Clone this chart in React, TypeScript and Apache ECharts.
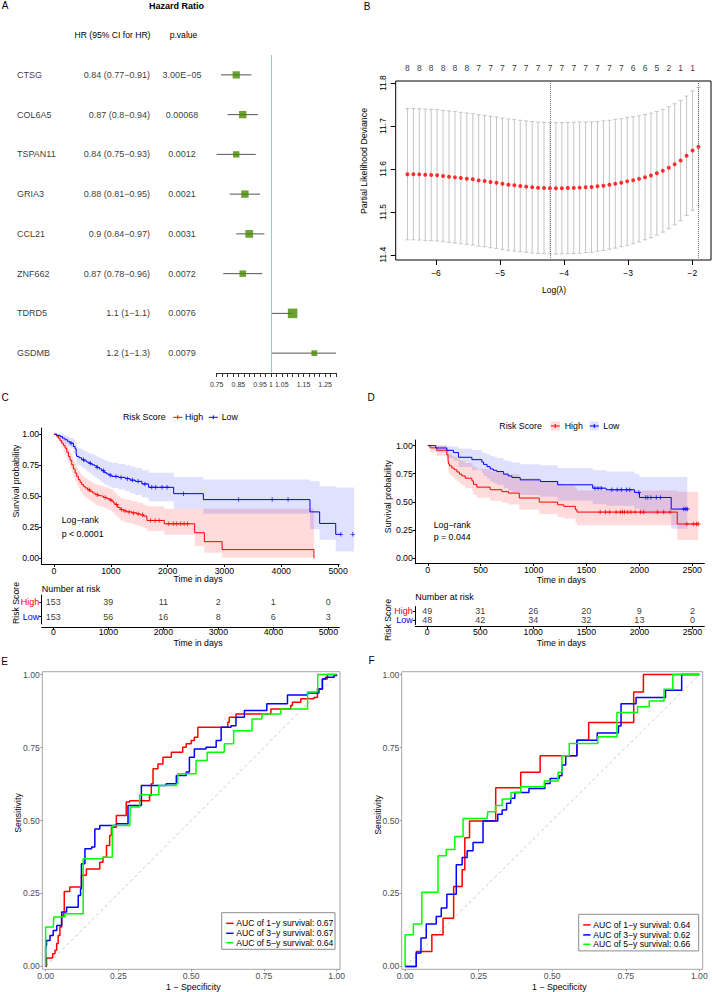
import React, { useEffect, useRef } from 'react';
import * as echarts from 'echarts';

const FONT = '"Liberation Sans", Arial, Helvetica, sans-serif';
const RED = '#FF0000';
const BLUE = '#0000FF';
const GREEN = '#00FF00';
const RED_FILL = 'rgba(255,0,0,0.14)';
const BLUE_FILL = 'rgba(0,0,255,0.12)';
const PLUS = 'path://M4,0H6V4H10V6H6V10H4V6H0V4H4Z';

// ---------------- Panel A: forest plot ----------------
const genes = ['CTSG', 'COL6A5', 'TSPAN11', 'GRIA3', 'CCL21', 'ZNF662', 'TDRD5', 'GSDMB'];
const hazardRatio = [0.84, 0.87, 0.84, 0.88, 0.9, 0.87, 1.1, 1.2];
const hrLower = [0.77, 0.8, 0.75, 0.81, 0.84, 0.78, 1.0, 1.0];
const hrUpper = [0.91, 0.94, 0.93, 0.95, 0.97, 0.96, 1.1, 1.3];
const hrLabels = ['0.84 (0.77\u22120.91)', '0.87 (0.8\u22120.94)', '0.84 (0.75\u22120.93)', '0.88 (0.81\u22120.95)', '0.9 (0.84\u22120.97)', '0.87 (0.78\u22120.96)', '1.1 (1\u22121.1)', '1.2 (1\u22121.3)'];
const pValues = ['3.00E\u221205', '0.00068', '0.0012', '0.0021', '0.0031', '0.0072', '0.0076', '0.0079'];
const forestTickLabels = [0.75, 0.85, 0.95, 1, 1.05, 1.15, 1.25];

// ---------------- Panel B: cv.glmnet ----------------
const logLambda = [-6.446, -6.353, -6.261, -6.168, -6.075, -5.983, -5.89, -5.797, -5.704, -5.612,
  -5.519, -5.426, -5.334, -5.241, -5.148, -5.056, -4.963, -4.87, -4.777, -4.685,
  -4.592, -4.499, -4.407, -4.314, -4.221, -4.129, -4.036, -3.943, -3.85, -3.758,
  -3.665, -3.572, -3.48, -3.387, -3.294, -3.202, -3.109, -3.016, -2.923, -2.831,
  -2.738, -2.645, -2.553, -2.46, -2.367, -2.275, -2.182, -2.089, -1.996, -1.904];
const cvm = [11.588, 11.588, 11.5875, 11.5867, 11.586, 11.5852, 11.5836, 11.582, 11.5805, 11.579,
  11.5774, 11.5759, 11.5735, 11.572, 11.5697, 11.5681, 11.5658, 11.5635, 11.562, 11.5604,
  11.5589, 11.5573, 11.5563, 11.5556, 11.555, 11.5551, 11.5553, 11.5556, 11.556, 11.5566,
  11.5573, 11.5581, 11.5597, 11.5612, 11.5635, 11.5658, 11.5681, 11.5712, 11.574, 11.577,
  11.581, 11.585, 11.59, 11.596, 11.603, 11.611, 11.62, 11.631, 11.643, 11.652];
const cvsd = [0.153, 0.153, 0.153, 0.153, 0.153, 0.153, 0.153, 0.153, 0.153, 0.153,
  0.153, 0.153, 0.153, 0.153, 0.153, 0.153, 0.153, 0.153, 0.153, 0.153,
  0.153, 0.153, 0.153, 0.153, 0.153, 0.153, 0.153, 0.153, 0.153, 0.153,
  0.152, 0.152, 0.151, 0.151, 0.15, 0.15, 0.149, 0.149, 0.148, 0.147,
  0.146, 0.145, 0.144, 0.143, 0.142, 0.141, 0.14, 0.139, 0.139, 0.138];
const nzeroLabels = [8, 8, 8, 8, 8, 8, 7, 7, 7, 7, 7, 7, 7, 7, 7, 7, 7, 7, 7, 6, 6, 5, 2, 1, 1];
const bXTicks = [-6, -5, -4, -3, -2];
const bYTicks = [11.4, 11.5, 11.6, 11.7, 11.8];

// ---------------- Panel C: KM (training) ----------------
const cHighTime = [0, 40, 76, 105, 135, 165, 194, 225, 253, 282, 312, 340, 371, 400, 429, 458, 488, 517, 547, 590, 635, 680, 724, 770, 812, 870, 929, 975, 1018, 1050, 1076, 1120, 1165, 1220, 1282, 1370, 1459, 1520, 1576, 1635, 1941, 2476, 2647, 2959, 4576];
const cHighSurv = [1, 0.985, 0.968, 0.95, 0.928, 0.91, 0.888, 0.855, 0.821, 0.79, 0.754, 0.72, 0.687, 0.66, 0.634, 0.613, 0.594, 0.58, 0.567, 0.552, 0.54, 0.526, 0.513, 0.505, 0.5, 0.49, 0.481, 0.47, 0.46, 0.445, 0.433, 0.41, 0.393, 0.382, 0.374, 0.366, 0.358, 0.35, 0.34, 0.305, 0.278, 0.206, 0.134, 0.07, 0];
const cHighLower = [1, 0.965, 0.94, 0.92, 0.89, 0.865, 0.84, 0.8, 0.767, 0.73, 0.69, 0.655, 0.62, 0.59, 0.565, 0.54, 0.52, 0.505, 0.49, 0.475, 0.46, 0.445, 0.43, 0.42, 0.415, 0.405, 0.395, 0.385, 0.375, 0.36, 0.345, 0.325, 0.305, 0.295, 0.285, 0.275, 0.265, 0.255, 0.245, 0.22, 0.19, 0.1, 0.045, 0.005, 0];
const cHighUpper = [1, 1, 0.995, 0.985, 0.97, 0.955, 0.94, 0.91, 0.88, 0.85, 0.82, 0.79, 0.76, 0.73, 0.705, 0.685, 0.67, 0.655, 0.645, 0.63, 0.62, 0.605, 0.595, 0.59, 0.585, 0.575, 0.57, 0.56, 0.55, 0.535, 0.525, 0.5, 0.485, 0.475, 0.47, 0.46, 0.45, 0.445, 0.43, 0.42, 0.4, 0.4, 0.4, 0.4, 0];
const cHighEnd = 4576;
const cHighCensor = [620, 760, 900, 1000, 1100, 1190, 1250, 1320, 1400, 1480, 1560, 1700, 1780, 1850, 2020, 2100, 2160, 2230, 2290, 2350];
const cLowTime = [0, 50, 106, 150, 194, 240, 282, 341, 371, 390, 400, 440, 488, 530, 576, 620, 665, 710, 753, 800, 841, 885, 929, 975, 1018, 1135, 1253, 1340, 1429, 1547, 1665, 2106, 2629, 4506, 4676, 4959];
const cLowSurv = [1, 0.99, 0.981, 0.968, 0.955, 0.94, 0.928, 0.901, 0.882, 0.85, 0.821, 0.81, 0.794, 0.785, 0.775, 0.765, 0.754, 0.745, 0.733, 0.72, 0.706, 0.69, 0.679, 0.67, 0.66, 0.652, 0.642, 0.63, 0.62, 0.599, 0.572, 0.521, 0.473, 0.374, 0.281, 0.193];
const cLowLower = [1, 0.975, 0.96, 0.94, 0.92, 0.9, 0.885, 0.85, 0.83, 0.79, 0.76, 0.745, 0.73, 0.715, 0.7, 0.685, 0.67, 0.655, 0.64, 0.625, 0.61, 0.595, 0.585, 0.575, 0.565, 0.555, 0.54, 0.525, 0.51, 0.49, 0.46, 0.4, 0.358, 0.235, 0.15, 0.055];
const cLowUpper = [1, 1, 1, 0.995, 0.99, 0.98, 0.97, 0.955, 0.94, 0.915, 0.895, 0.885, 0.875, 0.865, 0.855, 0.845, 0.84, 0.83, 0.82, 0.81, 0.8, 0.79, 0.785, 0.775, 0.77, 0.76, 0.75, 0.74, 0.73, 0.71, 0.69, 0.655, 0.634, 0.62, 0.58, 0.57];
const cLowEnd = 5282;
const cLowCensor = [300, 520, 640, 760, 870, 990, 1090, 1180, 1290, 1380, 1480, 1600, 1720, 1790, 1900, 1990, 2280, 3250, 3840, 4120, 5050, 5260];
const cRiskTimes = [0, 1000, 2000, 3000, 4000, 5000];
const cRiskHigh = [153, 39, 11, 2, 1, 0];
const cRiskLow = [153, 56, 16, 8, 6, 3];

// ---------------- Panel D: KM (validation) ----------------
const dHighTime = [0, 22, 85, 180, 192, 196, 205, 227, 250, 275, 300, 322, 354, 417, 432, 464, 590, 700, 764, 865, 1054, 1228, 1285, 1395, 1411, 2358];
const dHighSurv = [1, 0.98, 0.959, 0.918, 0.878, 0.837, 0.82, 0.8, 0.785, 0.765, 0.745, 0.73, 0.71, 0.686, 0.655, 0.63, 0.607, 0.59, 0.577, 0.533, 0.497, 0.473, 0.459, 0.429, 0.408, 0.302];
const dHighLower = [1, 0.94, 0.91, 0.85, 0.8, 0.76, 0.74, 0.72, 0.7, 0.68, 0.66, 0.645, 0.62, 0.595, 0.56, 0.535, 0.51, 0.49, 0.475, 0.43, 0.39, 0.365, 0.35, 0.315, 0.29, 0.16];
const dHighUpper = [1, 1, 1, 0.985, 0.96, 0.935, 0.925, 0.91, 0.9, 0.885, 0.87, 0.86, 0.845, 0.83, 0.81, 0.79, 0.77, 0.755, 0.745, 0.71, 0.68, 0.66, 0.645, 0.62, 0.6, 0.59];
const dHighEnd = 2557;
const dHighCensor = [1630, 1680, 1720, 1780, 1820, 1840, 1860, 1890, 1920, 1960, 2010, 2040, 2170, 2230, 2290, 2450, 2510, 2540, 2557];
const dLowTime = [0, 76, 180, 243, 290, 417, 511, 527, 560, 590, 620, 653, 717, 760, 795, 874, 1064, 1228, 1559, 1686, 1954, 2001, 2301];
const dLowSurv = [1, 0.979, 0.958, 0.938, 0.896, 0.875, 0.854, 0.833, 0.813, 0.792, 0.78, 0.769, 0.746, 0.73, 0.716, 0.695, 0.68, 0.651, 0.621, 0.607, 0.583, 0.538, 0.435];
const dLowLower = [1, 0.94, 0.89, 0.865, 0.81, 0.78, 0.755, 0.73, 0.705, 0.68, 0.665, 0.65, 0.62, 0.6, 0.585, 0.56, 0.545, 0.51, 0.48, 0.465, 0.44, 0.39, 0.26];
const dLowUpper = [1, 1, 0.995, 0.99, 0.975, 0.96, 0.945, 0.935, 0.92, 0.91, 0.9, 0.89, 0.87, 0.86, 0.85, 0.835, 0.825, 0.8, 0.78, 0.77, 0.75, 0.72, 0.72];
const dLowEnd = 2453;
const dLowCensor = [1580, 1610, 1640, 1740, 1790, 1830, 1880, 1910, 1995, 2060, 2080, 2110, 2160, 2200, 2420, 2440, 2453];
const dRiskTimes = [0, 500, 1000, 1500, 2000, 2500];
const dRiskHigh = [49, 31, 26, 20, 9, 2];
const dRiskLow = [48, 42, 34, 32, 13, 0];

// ---------------- Panels E/F: ROC ----------------
const rocYears = ['1', '3', '5'];
const aucE = [0.67, 0.67, 0.64];
const aucF = [0.64, 0.62, 0.66];
const rocE1 = [[0, 0], [0.003, 0.015], [0.003, 0.029], [0.021, 0.029], [0.024, 0.043], [0.032, 0.055], [0.038, 0.078], [0.043, 0.106], [0.049, 0.135], [0.055, 0.169], [0.06, 0.18], [0.064, 0.257], [0.083, 0.272], [0.118, 0.272], [0.123, 0.312], [0.14, 0.334], [0.18, 0.334], [0.186, 0.357], [0.197, 0.374], [0.209, 0.414], [0.22, 0.449], [0.226, 0.477], [0.243, 0.517], [0.26, 0.517], [0.277, 0.563], [0.289, 0.568], [0.35, 0.568], [0.357, 0.586], [0.363, 0.626], [0.369, 0.677], [0.386, 0.694], [0.403, 0.717], [0.432, 0.734], [0.471, 0.751], [0.483, 0.763], [0.5, 0.774], [0.511, 0.785], [0.523, 0.82], [0.597, 0.82], [0.626, 0.837], [0.631, 0.854], [0.654, 0.865], [0.734, 0.865], [0.774, 0.882], [0.842, 0.894], [0.848, 0.905], [0.877, 0.917], [0.922, 0.922], [0.934, 0.951], [0.951, 0.985], [0.968, 1], [1, 1]];
const rocE3 = [[0, 0], [0, 0.072], [0.003, 0.089], [0.015, 0.106], [0.026, 0.123], [0.038, 0.14], [0.055, 0.186], [0.072, 0.203], [0.106, 0.203], [0.112, 0.243], [0.12, 0.266], [0.123, 0.352], [0.135, 0.403], [0.158, 0.409], [0.169, 0.471], [0.186, 0.483], [0.243, 0.489], [0.28, 0.489], [0.283, 0.551], [0.323, 0.551], [0.329, 0.62], [0.414, 0.626], [0.449, 0.654], [0.483, 0.666], [0.494, 0.717], [0.511, 0.745], [0.551, 0.751], [0.586, 0.774], [0.603, 0.82], [0.637, 0.825], [0.654, 0.854], [0.683, 0.877], [0.728, 0.877], [0.76, 0.9], [0.825, 0.9], [0.831, 0.93], [0.9, 0.937], [0.939, 0.951], [0.951, 0.985], [0.962, 0.991], [0.991, 0.997], [1, 1]];
const rocE5 = [[0, 0], [0, 0.135], [0.026, 0.135], [0.028, 0.169], [0.06, 0.169], [0.066, 0.18], [0.123, 0.18], [0.129, 0.369], [0.192, 0.369], [0.197, 0.374], [0.226, 0.374], [0.229, 0.483], [0.289, 0.483], [0.291, 0.546], [0.317, 0.546], [0.323, 0.588], [0.386, 0.588], [0.389, 0.62], [0.449, 0.626], [0.454, 0.66], [0.511, 0.66], [0.517, 0.706], [0.551, 0.706], [0.555, 0.734], [0.608, 0.734], [0.614, 0.763], [0.643, 0.763], [0.646, 0.808], [0.706, 0.808], [0.709, 0.848], [0.74, 0.848], [0.743, 0.865], [0.803, 0.865], [0.808, 0.882], [0.87, 0.882], [0.9, 0.94], [0.93, 0.94], [0.935, 1], [1, 1]];
const rocF1 = [[0, 0], [0.038, 0], [0.038, 0.051], [0.091, 0.051], [0.091, 0.108], [0.129, 0.108], [0.129, 0.165], [0.165, 0.165], [0.165, 0.274], [0.188, 0.274], [0.194, 0.331], [0.203, 0.331], [0.203, 0.441], [0.219, 0.441], [0.219, 0.498], [0.308, 0.498], [0.308, 0.612], [0.393, 0.612], [0.393, 0.665], [0.459, 0.665], [0.459, 0.722], [0.584, 0.722], [0.584, 0.775], [0.624, 0.775], [0.624, 0.836], [0.777, 0.836], [0.777, 0.94], [0.81, 0.94], [0.81, 1], [1, 1]];
const rocF3 = [[0, 0], [0.038, 0], [0.038, 0.046], [0.054, 0.046], [0.054, 0.097], [0.072, 0.097], [0.072, 0.145], [0.106, 0.145], [0.106, 0.171], [0.123, 0.171], [0.123, 0.2], [0.142, 0.2], [0.142, 0.247], [0.174, 0.247], [0.174, 0.348], [0.186, 0.348], [0.194, 0.373], [0.211, 0.396], [0.231, 0.425], [0.265, 0.425], [0.265, 0.498], [0.315, 0.498], [0.315, 0.521], [0.33, 0.536], [0.345, 0.559], [0.359, 0.576], [0.373, 0.596], [0.421, 0.61], [0.475, 0.627], [0.493, 0.644], [0.524, 0.653], [0.533, 0.69], [0.546, 0.722], [0.581, 0.722], [0.584, 0.775], [0.653, 0.775], [0.653, 0.8], [0.725, 0.8], [0.725, 0.824], [0.734, 0.9], [0.775, 0.9], [0.785, 0.922], [0.885, 0.922], [0.885, 0.946], [0.94, 0.946], [0.94, 1], [1, 1]];
const rocF5 = [[0, 0], [0, 0.108], [0.028, 0.108], [0.028, 0.145], [0.057, 0.145], [0.057, 0.254], [0.112, 0.254], [0.112, 0.379], [0.14, 0.401], [0.169, 0.445], [0.197, 0.507], [0.279, 0.507], [0.281, 0.53], [0.307, 0.551], [0.33, 0.574], [0.36, 0.596], [0.393, 0.616], [0.473, 0.635], [0.52, 0.64], [0.52, 0.665], [0.533, 0.722], [0.558, 0.764], [0.643, 0.764], [0.655, 0.787], [0.72, 0.787], [0.72, 0.87], [0.77, 0.87], [0.79, 0.89], [0.83, 0.91], [0.88, 0.91], [0.88, 0.95], [0.91, 0.95], [0.91, 1], [1, 1]];

// ---------------- helpers ----------------
function survAt(times: number[], surv: number[], t: number) {
  let v = surv[0];
  for (let i = 0; i < times.length; i++) if (times[i] <= t) v = surv[i];
  return v;
}
function stepPts(times: number[], surv: number[], end: number) {
  const pts = times.map((t, i) => [t, surv[i]]);
  pts.push([end, surv[surv.length - 1]]);
  return pts;
}
function bandPoly(times: number[], lower: number[], upper: number[], end: number) {
  const top: number[][] = [];
  const bot: number[][] = [];
  for (let i = 0; i < times.length; i++) {
    const t0 = times[i];
    const t1 = i + 1 < times.length ? times[i + 1] : end;
    top.push([t0, upper[i]], [t1, upper[i]]);
    bot.push([t0, lower[i]], [t1, lower[i]]);
  }
  return top.concat(bot.reverse());
}
function bandSeries(gi: number, poly: number[][], fill: string) {
  return {
    type: 'custom', xAxisIndex: gi, yAxisIndex: gi, data: [[0, 0]], silent: true, clip: false, z: 1,
    renderItem: (_p: any, api: any) => ({
      type: 'polygon', shape: { points: poly.map((p) => api.coord(p)) }, style: { fill },
    }),
  };
}
function kmLine(gi: number, pts: number[][], color: string) {
  return { type: 'line', xAxisIndex: gi, yAxisIndex: gi, data: pts, step: 'end', symbol: 'none', clip: false, silent: true, z: 3, lineStyle: { color, width: 1 } };
}
function censorSeries(gi: number, times: number[], surv: number[], cens: number[], color: string, size: number) {
  return { type: 'scatter', xAxisIndex: gi, yAxisIndex: gi, data: cens.map((t) => [t, survAt(times, surv, t)]), symbol: PLUS, symbolSize: size, clip: false, silent: true, z: 4, itemStyle: { color } };
}
function riskSeries(gi: number, times: number[], counts: number[], group: string) {
  return {
    type: 'scatter', xAxisIndex: gi, yAxisIndex: gi, data: times.map((t) => [t, group]), symbolSize: 1, silent: true,
    itemStyle: { color: 'rgba(0,0,0,0)' },
    label: { show: true, position: 'inside', formatter: (p: any) => String(counts[p.dataIndex]), color: '#000', fontSize: 9, fontFamily: FONT },
  };
}
function textColSeries(values: string[], x: number, align: string) {
  return {
    type: 'scatter', xAxisIndex: 0, yAxisIndex: 0, data: values.map((_v, i) => [x, i]), symbolSize: 1, silent: true,
    itemStyle: { color: 'rgba(0,0,0,0)' },
    label: { show: true, position: 'inside', align, formatter: (p: any) => values[p.dataIndex], color: '#000', fontSize: 9, fontFamily: FONT },
  };
}
function rocLine(gi: number, pts: number[][], color: string) {
  return { type: 'line', xAxisIndex: gi, yAxisIndex: gi, data: pts, step: 'end', symbol: 'none', silent: true, z: 3, lineStyle: { color, width: 1.5 } };
}
const hiddenAxis = (gi: number, min: number, max: number, inverse = false) => ({ type: 'value', gridIndex: gi, min, max, inverse, show: false });

function kmAxis(gi: number, min: number, max: number, ticks: number[], fmt: (v: number) => string, offset = 0, margin = 1.5) {
  return {
    type: 'value', gridIndex: gi, min, max, offset, splitLine: { show: false },
    axisLine: { show: true, onZero: false, lineStyle: { color: '#000', width: 1 } },
    axisTick: { show: true, length: 2.5, customValues: ticks, lineStyle: { color: '#000' } },
    axisLabel: { show: true, customValues: ticks, formatter: fmt, color: '#000', fontSize: 8.7, fontFamily: FONT, margin },
  };
}
function rocAxis(gi: number, min: number, max: number) {
  const ticks = [0, 0.25, 0.5, 0.75, 1];
  return {
    type: 'value', gridIndex: gi, min, max, splitLine: { show: false },
    axisLine: { show: false, onZero: false },
    axisTick: { show: true, length: 2, customValues: ticks, lineStyle: { color: '#999' } },
    axisLabel: { show: true, customValues: ticks, formatter: (v: number) => v.toFixed(2), color: '#4d4d4d', fontSize: 8.6, fontFamily: FONT, margin: 2.5 },
  };
}

function txt(x: number, y: number, text: string, o: any = {}) {
  return {
    type: 'text', x, y, rotation: o.rot || 0, silent: true, z: 100,
    style: {
      text, fontSize: o.size || 8.7, fontFamily: FONT, fontWeight: o.bold ? 'bold' : 'normal',
      fill: o.color || '#000', align: o.align || 'center', verticalAlign: 'middle',
    },
  };
}
function seg(x1: number, y1: number, x2: number, y2: number, stroke: string, w = 1) {
  return { type: 'line', silent: true, z: 100, shape: { x1, y1, x2, y2 }, style: { stroke, lineWidth: w } };
}
function rectG(x: number, y: number, width: number, height: number, fill: string, stroke?: string) {
  return { type: 'rect', silent: true, z: 99, shape: { x, y, width, height }, style: { fill, stroke: stroke || null, lineWidth: 1 } };
}
function plusKey(cx: number, cy: number, color: string) {
  return [seg(cx - 4.5, cy, cx + 4.5, cy, color, 1), seg(cx, cy - 2, cx, cy + 2, color, 1)];
}

function buildOption() {
  const boxSize = (i: number) => 2.95 * Math.sqrt(1 / Math.log(hrUpper[i] / hrLower[i]));
  const iMin = cvm.indexOf(Math.min(...cvm));
  const thr = cvm[iMin] + cvsd[iMin];
  let i1se = iMin;
  for (let i = 0; i < cvm.length; i++) if (cvm[i] <= thr) i1se = i;
  const bYMax = 11.805;

  const grid = [
    { left: 0, top: 55, width: 216, height: 318 },
    { left: 216.7, top: 55, width: 119.3, height: 318 },
    { left: 395.7, top: 81, width: 315.3, height: 179, show: true, borderColor: '#000', borderWidth: 1, backgroundColor: 'transparent' },
    { left: 41.7, top: 428, width: 297.6, height: 136.5 },
    { left: 41.7, top: 595.1, width: 297.6, height: 28.8 },
    { left: 415.3, top: 440, width: 289, height: 123.5 },
    { left: 415.3, top: 606.5, width: 289, height: 18 },
    { left: 42.3, top: 671.7, width: 297.7, height: 297.6, show: true, borderColor: '#a6a6a6', borderWidth: 1, backgroundColor: 'transparent' },
    { left: 401.7, top: 671.7, width: 301, height: 297.6, show: true, borderColor: '#a6a6a6', borderWidth: 1, backgroundColor: 'transparent' },
  ];

  const fmt2 = (v: number) => v.toFixed(2);
  const fmt0 = (v: number) => String(v);
  const minusFmt = (v: number) => String(v).replace('-', '\u2212');

  const xAxis: any[] = [
    hiddenAxis(0, 0, 216),
    {
      type: 'value', gridIndex: 1, min: 0.75, max: 1.3, interval: 0.025, splitLine: { show: false },
      axisLine: { show: true, onZero: false, lineStyle: { color: '#333', width: 1 } },
      axisTick: { show: true, length: 4, lineStyle: { color: '#333' } },
      axisLabel: {
        color: '#333', fontSize: 7, fontFamily: FONT, margin: 8,
        formatter: (v: number) => {
          const r = Math.round(v * 1000) / 1000;
          return forestTickLabels.some((t) => Math.abs(t - r) < 1e-6) ? String(r) : '';
        },
      },
    },
    {
      type: 'value', gridIndex: 2, min: -6.629, max: -1.708, splitLine: { show: false },
      axisLine: { show: false, onZero: false },
      axisTick: { show: true, length: 5, customValues: bXTicks, lineStyle: { color: '#000' } },
      axisLabel: { customValues: bXTicks, formatter: minusFmt, color: '#000', fontSize: 8.5, fontFamily: FONT, margin: 8.5 },
    },
    kmAxis(3, -217, 5022, cRiskTimes, fmt0),
    kmAxis(4, -211, 5200, cRiskTimes, fmt0, 3.4, 0.5),
    kmAxis(5, -118, 2614, dRiskTimes, fmt0),
    kmAxis(6, -112, 2612, dRiskTimes, fmt0, 2.2, 0.5),
    rocAxis(7, -0.0115, 1.0115),
    rocAxis(8, -0.0115, 1.0115),
  ];
  const riskYAxis = (gi: number) => ({
    type: 'category', gridIndex: gi, data: ['Low', 'High'],
    axisLine: { show: true, onZero: false, lineStyle: { color: '#000' } },
    axisTick: { show: true, length: 2.5, alignWithLabel: true, lineStyle: { color: '#000' } },
    axisLabel: {
      interval: 0, margin: 2.5, fontSize: 9, fontFamily: FONT,
      formatter: (v: string) => (v === 'High' ? '{h|High}' : '{l|Low}'),
      rich: { h: { color: RED, fontSize: 9, fontFamily: FONT }, l: { color: BLUE, fontSize: 9, fontFamily: FONT } },
    },
  });
  const yAxis: any[] = [
    hiddenAxis(0, -0.5, 7.5, true),
    hiddenAxis(1, -0.5, 7.5, true),
    {
      type: 'value', gridIndex: 2, min: 11.388, max: bYMax, splitLine: { show: false },
      axisLine: { show: false, onZero: false },
      axisTick: { show: true, length: 5, customValues: bYTicks, lineStyle: { color: '#000' } },
      axisLabel: { customValues: bYTicks, formatter: (v: number) => v.toFixed(1), rotate: 90, color: '#000', fontSize: 8.5, fontFamily: FONT, margin: 8.5 },
    },
    kmAxis(3, -0.05, 1.05, [0, 0.25, 0.5, 0.75, 1], fmt2, 0, 2.5),
    riskYAxis(4),
    kmAxis(5, -0.05, 1.05, [0, 0.25, 0.5, 0.75, 1], fmt2, 0, 2.5),
    riskYAxis(6),
    rocAxis(7, -0.01, 1.01),
    rocAxis(8, -0.01, 1.01),
  ];

  const series: any[] = [
    // ---- A ----
    textColSeries(genes, 17, 'left'),
    textColSeries(hrLabels, 150, 'right'),
    textColSeries(pValues, 182, 'center'),
    {
      type: 'custom', xAxisIndex: 1, yAxisIndex: 1, silent: true, z: 2,
      data: genes.map((_g, i) => [hrLower[i], hrUpper[i], i]),
      encode: { x: [0, 1], y: 2 },
      renderItem: (_p: any, api: any) => {
        const y = api.value(2);
        const a = api.coord([api.value(0), y]);
        const b = api.coord([api.value(1), y]);
        return { type: 'line', shape: { x1: a[0], y1: a[1], x2: b[0], y2: b[1] }, style: { stroke: '#555', lineWidth: 1 } };
      },
    },
    {
      type: 'scatter', xAxisIndex: 1, yAxisIndex: 1, silent: true, z: 3,
      data: hazardRatio.map((v, i) => [v, i]), symbol: 'rect',
      symbolSize: (_v: any, p: any) => boxSize(p.dataIndex),
      itemStyle: { color: '#458B00' },
      markLine: {
        silent: true, symbol: ['none', 'none'], label: { show: false },
        lineStyle: { color: '#87CEEB', width: 1, type: 'solid' }, data: [{ xAxis: 1 }],
      },
    },
    // ---- B ----
    {
      type: 'custom', xAxisIndex: 2, yAxisIndex: 2, silent: true, z: 2, clip: false,
      data: logLambda.map((l, i) => [l, cvm[i] - cvsd[i], cvm[i] + cvsd[i]]),
      encode: { x: 0, y: [1, 2] },
      renderItem: (_p: any, api: any) => {
        const x = api.value(0);
        const p1 = api.coord([x, api.value(1)]);
        const p2 = api.coord([x, api.value(2)]);
        const st = { stroke: '#c4c4c4', lineWidth: 1 };
        const w = 2;
        return {
          type: 'group', children: [
            { type: 'line', shape: { x1: p1[0], y1: p1[1], x2: p2[0], y2: p2[1] }, style: st },
            { type: 'line', shape: { x1: p1[0] - w, y1: p1[1], x2: p1[0] + w, y2: p1[1] }, style: st },
            { type: 'line', shape: { x1: p2[0] - w, y1: p2[1], x2: p2[0] + w, y2: p2[1] }, style: st },
          ],
        };
      },
    },
    {
      type: 'scatter', xAxisIndex: 2, yAxisIndex: 2, silent: true, z: 4,
      data: logLambda.map((l, i) => [l, cvm[i]]), symbolSize: 4, itemStyle: { color: RED },
      markLine: {
        silent: true, symbol: ['none', 'none'], label: { show: false },
        lineStyle: { color: '#777', width: 1, type: 'dotted' },
        data: [{ xAxis: logLambda[iMin] }, { xAxis: logLambda[i1se] }],
      },
    },
    {
      type: 'scatter', xAxisIndex: 2, yAxisIndex: 2, silent: true, clip: false,
      data: nzeroLabels.map((_n, k) => [logLambda[2 * k], bYMax]), symbolSize: 1,
      itemStyle: { color: 'rgba(0,0,0,0)' },
      label: { show: true, position: 'top', distance: 8, formatter: (p: any) => String(nzeroLabels[p.dataIndex]), color: '#000', fontSize: 8.5, fontFamily: FONT },
    },
    // ---- C ----
    bandSeries(3, bandPoly(cHighTime, cHighLower, cHighUpper, cHighEnd), RED_FILL),
    bandSeries(3, bandPoly(cLowTime, cLowLower, cLowUpper, cLowEnd), BLUE_FILL),
    kmLine(3, stepPts(cHighTime, cHighSurv, cHighEnd), RED),
    kmLine(3, stepPts(cLowTime, cLowSurv, cLowEnd), BLUE),
    censorSeries(3, cHighTime, cHighSurv, cHighCensor, RED, 4.5),
    censorSeries(3, cLowTime, cLowSurv, cLowCensor, BLUE, 4.5),
    riskSeries(4, cRiskTimes, cRiskHigh, 'High'),
    riskSeries(4, cRiskTimes, cRiskLow, 'Low'),
    // ---- D ----
    bandSeries(5, bandPoly(dHighTime, dHighLower, dHighUpper, dHighEnd), RED_FILL),
    bandSeries(5, bandPoly(dLowTime, dLowLower, dLowUpper, dLowEnd), BLUE_FILL),
    kmLine(5, stepPts(dHighTime, dHighSurv, dHighEnd), RED),
    kmLine(5, stepPts(dLowTime, dLowSurv, dLowEnd), BLUE),
    censorSeries(5, dHighTime, dHighSurv, dHighCensor, RED, 4.5),
    censorSeries(5, dLowTime, dLowSurv, dLowCensor, BLUE, 4.5),
    riskSeries(6, dRiskTimes, dRiskHigh, 'High'),
    riskSeries(6, dRiskTimes, dRiskLow, 'Low'),
    // ---- E ----
    { type: 'line', xAxisIndex: 7, yAxisIndex: 7, data: [[0, 0], [1, 1]], symbol: 'none', silent: true, z: 2, lineStyle: { color: '#c8c8c8', width: 1, type: [3, 3] } },
    rocLine(7, rocE1, RED),
    rocLine(7, rocE3, BLUE),
    rocLine(7, rocE5, GREEN),
    // ---- F ----
    { type: 'line', xAxisIndex: 8, yAxisIndex: 8, data: [[0, 0], [1, 1]], symbol: 'none', silent: true, z: 2, lineStyle: { color: '#c8c8c8', width: 1, type: [3, 3] } },
    rocLine(8, rocF1, RED),
    rocLine(8, rocF3, BLUE),
    rocLine(8, rocF5, GREEN),
  ];

  const rocColors = [RED, BLUE, GREEN];
  const rocLegend = (bx: number, by: number, bw: number, aucs: number[]) => {
    const els: any[] = [rectG(bx, by, bw, 36.6, '#fff', '#8c8c8c')];
    const rows = [10.6, 20.6, 30];
    aucs.forEach((a, i) => {
      els.push(seg(bx + 4.5, by + rows[i], bx + 11.8, by + rows[i], rocColors[i], 1.5));
      els.push(txt(bx + 14.5, by + rows[i], `AUC of ${rocYears[i]}\u2212y survival: ${a.toFixed(2)}`, { align: 'left', size: 8.6 }));
    });
    return els;
  };

  const graphic: any[] = [
    // panel letters
    txt(5, 5.5, 'A', { size: 10 }), txt(367, 6.5, 'B', { size: 10 }), txt(5, 397, 'C', { size: 10 }),
    txt(371, 397, 'D', { size: 10 }), txt(4.5, 661, 'E', { size: 10 }), txt(371.5, 660, 'F', { size: 10 }),
    // A headers
    txt(176.5, 6, 'Hazard Ratio', { size: 9, bold: true }),
    txt(112.5, 35, 'HR (95% CI for HR)', { size: 8.6 }),
    txt(183.5, 35, 'p.value', { size: 8.6 }),
    // B titles
    txt(554, 290, 'Log(\u03bb)', { size: 8.5 }),
    txt(364, 161, 'Partial Likelihood Deviance', { size: 8.8, rot: Math.PI / 2 }),
    // C
    txt(123, 417.3, 'Risk Score', { align: 'left', size: 8.8 }),
    ...plusKey(177.7, 417.3, RED), txt(185, 417.3, 'High', { align: 'left', size: 8.8 }),
    ...plusKey(213.3, 417.3, BLUE), txt(221.7, 417.3, 'Low', { align: 'left', size: 8.8 }),
    txt(16, 481, 'Survival probability', { rot: Math.PI / 2 }),
    txt(198, 579.3, 'Time in days'),
    txt(61.7, 520, 'Log\u2212rank', { align: 'left', size: 8.8 }),
    txt(61.7, 534, 'p < 0.0001', { align: 'left', size: 8.8 }),
    txt(41.7, 589, 'Number at risk', { align: 'left', size: 9 }),
    txt(16, 603, 'Risk Score', { rot: Math.PI / 2 }),
    txt(198, 642.8, 'Time in days'),
    // D
    txt(499.3, 426, 'Risk Score', { align: 'left', size: 8.8 }),
    rectG(550.8, 421.5, 9, 9, RED_FILL),
    ...plusKey(555.3, 426, RED), txt(564.7, 426, 'High', { align: 'left', size: 8.8 }),
    rectG(589.8, 421.5, 9, 9, BLUE_FILL),
    ...plusKey(594.3, 426, BLUE), txt(603.3, 426, 'Low', { align: 'left', size: 8.8 }),
    txt(387.7, 496.7, 'Survival probability', { rot: Math.PI / 2 }),
    txt(561.3, 580, 'Time in days'),
    txt(433.7, 525, 'Log\u2212rank', { align: 'left', size: 8.8 }),
    txt(433.7, 536.5, 'p = 0.044', { align: 'left', size: 8.8 }),
    txt(415.3, 597.3, 'Number at risk', { align: 'left', size: 9 }),
    txt(387.7, 620, 'Risk Score', { rot: Math.PI / 2 }),
    txt(561.3, 643, 'Time in days'),
    // E
    txt(18.3, 813, 'Sensitivity', { rot: Math.PI / 2, size: 8.8 }),
    txt(193.3, 986.7, '1 \u2212 Specificity', { size: 8.8 }),
    ...rocLegend(221.7, 912.7, 113.3, aucE),
    // F
    txt(377.7, 815, 'Sensitivity', { rot: Math.PI / 2, size: 8.8 }),
    txt(559.3, 986.7, '1 \u2212 Specificity', { size: 8.8 }),
    ...rocLegend(578.7, 914.3, 120, aucF),
  ];

  return { animation: false, backgroundColor: '#fff', grid, xAxis, yAxis, series, graphic };
}

export default function App() {
  const ref = useRef<HTMLDivElement>(null);
  useEffect(() => {
    const chart = echarts.init(ref.current as HTMLDivElement, null, { renderer: 'svg' });
    chart.setOption(buildOption() as any);
    return () => chart.dispose();
  }, []);
  return <div ref={ref} style={{ position: 'absolute', left: 0, top: 0, width: 712, height: 992, background: '#fff' }} />;
}
